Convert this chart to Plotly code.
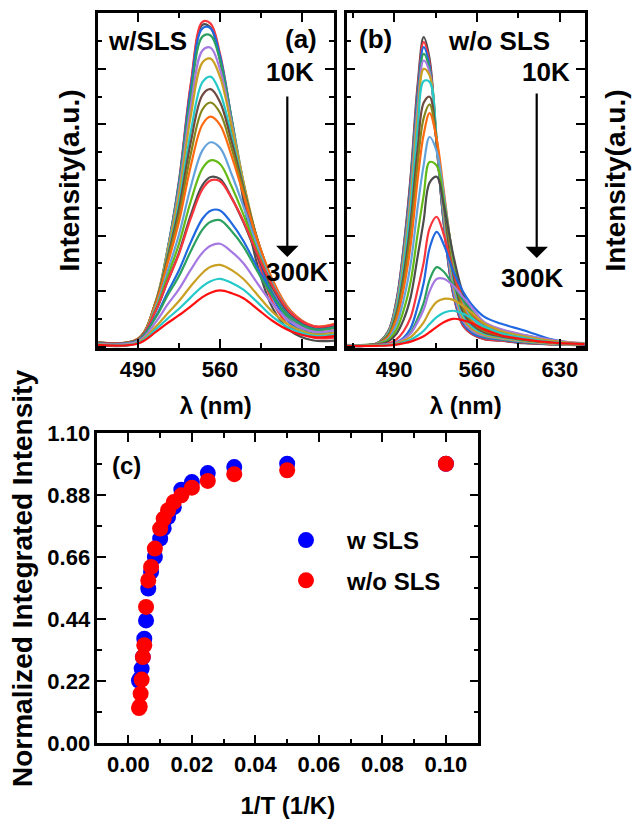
import plotly.graph_objects as go

FONT = "Liberation Sans, Arial, Helvetica, sans-serif"

# Measurement temperatures (K), 10 K first
temps = [10, 20, 30, 40, 50, 60, 70, 80, 90, 100,
         120, 140, 160, 180, 200, 220, 240, 260, 280, 300]

spectrum_colors = ["#4d4d4d", "#f8353c", "#1f68e0", "#2ca05f", "#a678e2",
                   "#c9a022", "#25c9c9", "#6e4a40", "#85851c", "#ff6a10",
                   "#63a2da", "#64ba16", "#4d4d4d", "#f8353c", "#1f68e0",
                   "#2ca05f", "#a678e2", "#c9a022", "#25c9c9", "#ff1010"]

# (a) PL spectra, sample with SLS
wl_a = [455, 490, 505, 515, 525, 535, 545, 552, 560, 570, 580, 592, 605, 620, 640, 658]
spectra_a = [
    [0.07, 0.17, 1.39, 3.28, 5.86, 9.37, 11.59, 11.48, 10.31, 7.85, 5.27, 2.93, 1.39, 0.58, 0.23, 0.23],
    [0.09, 0.20, 1.49, 3.41, 5.98, 9.46, 11.69, 11.63, 10.54, 8.14, 5.61, 3.23, 1.61, 0.73, 0.33, 0.34],
    [0.10, 0.23, 1.55, 3.45, 5.93, 9.28, 11.46, 11.46, 10.46, 8.19, 5.77, 3.44, 1.79, 0.85, 0.41, 0.44],
    [0.12, 0.25, 1.59, 3.46, 5.85, 9.02, 11.16, 11.20, 10.31, 8.19, 5.91, 3.62, 1.95, 0.96, 0.49, 0.53],
    [0.13, 0.26, 1.60, 3.40, 5.66, 8.64, 10.66, 10.76, 9.98, 8.04, 5.91, 3.73, 2.11, 1.05, 0.56, 0.60],
    [0.14, 0.28, 1.63, 3.38, 5.49, 8.29, 10.23, 10.37, 9.71, 7.92, 5.94, 3.84, 2.23, 1.15, 0.62, 0.67],
    [0.15, 0.28, 1.59, 3.24, 5.18, 7.73, 9.52, 9.72, 9.15, 7.57, 5.78, 3.82, 2.26, 1.19, 0.65, 0.72],
    [0.15, 0.29, 1.59, 3.17, 4.98, 7.35, 9.06, 9.27, 8.81, 7.37, 5.73, 3.86, 2.33, 1.25, 0.70, 0.77],
    [0.16, 0.30, 1.57, 3.07, 4.74, 6.93, 8.54, 8.79, 8.42, 7.13, 5.64, 3.86, 2.38, 1.29, 0.73, 0.81],
    [0.16, 0.30, 1.54, 2.95, 4.50, 6.50, 8.00, 8.28, 7.99, 6.85, 5.49, 3.83, 2.40, 1.32, 0.75, 0.84],
    [0.16, 0.28, 1.43, 2.69, 4.04, 5.75, 7.07, 7.36, 7.16, 6.20, 5.05, 3.58, 2.27, 1.26, 0.73, 0.80],
    [0.15, 0.28, 1.35, 2.50, 3.71, 5.23, 6.42, 6.71, 6.58, 5.76, 4.76, 3.42, 2.20, 1.23, 0.72, 0.79],
    [0.15, 0.27, 1.28, 2.33, 3.40, 4.74, 5.82, 6.11, 6.04, 5.36, 4.48, 3.26, 2.12, 1.19, 0.70, 0.78],
    [0.15, 0.27, 1.29, 2.33, 3.35, 4.62, 5.67, 5.99, 5.96, 5.34, 4.52, 3.33, 2.18, 1.24, 0.74, 0.81],
    [0.13, 0.24, 1.09, 1.94, 2.76, 3.76, 4.61, 4.90, 4.91, 4.44, 3.81, 2.84, 1.88, 1.08, 0.64, 0.71],
    [0.13, 0.23, 1.05, 1.83, 2.55, 3.44, 4.22, 4.50, 4.56, 4.16, 3.61, 2.71, 1.82, 1.06, 0.63, 0.70],
    [0.11, 0.20, 0.88, 1.51, 2.08, 2.77, 3.39, 3.64, 3.71, 3.42, 3.01, 2.28, 1.54, 0.91, 0.54, 0.60],
    [0.09, 0.16, 0.72, 1.19, 1.65, 2.18, 2.66, 2.88, 2.95, 2.76, 2.44, 1.87, 1.25, 0.76, 0.45, 0.51],
    [0.08, 0.14, 0.62, 1.01, 1.37, 1.78, 2.18, 2.36, 2.45, 2.30, 2.06, 1.60, 1.08, 0.66, 0.40, 0.44],
    [0.07, 0.12, 0.53, 0.85, 1.14, 1.46, 1.79, 1.95, 2.03, 1.93, 1.75, 1.36, 0.93, 0.57, 0.35, 0.39],
]

# (b) PL spectra, sample without SLS
wl_b = [449, 475, 485, 492, 498, 504, 510, 515, 520, 526, 532, 540, 548, 556, 566, 580, 600, 625, 652]
spectra_b = [
    [0.06, 0.11, 0.56, 1.67, 3.56, 6.13, 9.47, 11.14, 10.36, 7.35, 4.46, 1.89, 0.78, 0.45, 0.28, 0.22, 0.13, 0.09, 0.06],
    [0.05, 0.11, 0.55, 1.64, 3.50, 6.02, 9.31, 10.96, 10.21, 7.27, 4.41, 1.89, 0.79, 0.46, 0.29, 0.23, 0.14, 0.09, 0.05],
    [0.05, 0.11, 0.53, 1.61, 3.43, 5.90, 9.14, 10.78, 10.10, 7.26, 4.46, 1.96, 0.85, 0.50, 0.33, 0.26, 0.16, 0.10, 0.05],
    [0.05, 0.11, 0.53, 1.56, 3.33, 5.73, 8.91, 10.54, 9.97, 7.27, 4.54, 2.07, 0.92, 0.56, 0.37, 0.28, 0.18, 0.10, 0.06],
    [0.06, 0.11, 0.51, 1.51, 3.21, 5.54, 8.66, 10.30, 9.88, 7.35, 4.70, 2.10, 0.95, 0.58, 0.40, 0.30, 0.20, 0.11, 0.06],
    [0.06, 0.11, 0.49, 1.44, 3.07, 5.31, 8.34, 10.00, 9.77, 7.45, 4.89, 2.28, 1.05, 0.64, 0.44, 0.32, 0.21, 0.12, 0.06],
    [0.06, 0.11, 0.46, 1.35, 2.88, 4.98, 7.90, 9.56, 9.53, 7.51, 5.08, 2.45, 1.15, 0.72, 0.48, 0.35, 0.23, 0.13, 0.07],
    [0.06, 0.11, 0.42, 1.21, 2.57, 4.48, 7.17, 8.78, 9.00, 7.34, 5.14, 2.60, 1.27, 0.80, 0.53, 0.38, 0.25, 0.14, 0.07],
    [0.06, 0.11, 0.39, 1.10, 2.33, 4.08, 6.62, 8.23, 8.72, 7.41, 5.38, 2.85, 1.42, 0.88, 0.58, 0.41, 0.27, 0.15, 0.08],
    [0.07, 0.11, 0.35, 0.98, 2.07, 3.65, 6.04, 7.64, 8.41, 7.47, 5.61, 3.10, 1.58, 0.97, 0.63, 0.44, 0.29, 0.15, 0.08],
    [0.06, 0.11, 0.29, 0.80, 1.68, 2.98, 5.05, 6.54, 7.55, 7.03, 5.47, 3.15, 1.68, 1.03, 0.67, 0.47, 0.31, 0.16, 0.08],
    [0.06, 0.10, 0.24, 0.62, 1.30, 2.34, 4.09, 5.45, 6.65, 6.52, 5.26, 3.20, 1.78, 1.10, 0.71, 0.50, 0.33, 0.17, 0.08],
    [0.06, 0.09, 0.19, 0.47, 0.97, 1.79, 3.27, 4.54, 5.91, 6.12, 5.10, 3.30, 1.95, 1.22, 0.78, 0.55, 0.36, 0.18, 0.09],
    [0.05, 0.07, 0.12, 0.27, 0.56, 1.06, 2.07, 3.03, 4.26, 4.68, 4.03, 2.70, 1.75, 1.20, 0.80, 0.58, 0.40, 0.20, 0.08],
    [0.04, 0.06, 0.08, 0.17, 0.33, 0.67, 1.46, 2.30, 3.55, 4.14, 3.68, 2.72, 2.01, 1.50, 1.09, 0.84, 0.59, 0.25, 0.08],
    [0.04, 0.06, 0.08, 0.15, 0.28, 0.51, 1.03, 1.58, 2.41, 2.87, 2.70, 2.21, 1.70, 1.28, 0.85, 0.62, 0.42, 0.22, 0.11],
    [0.05, 0.07, 0.09, 0.16, 0.28, 0.48, 0.90, 1.34, 2.00, 2.44, 2.45, 2.20, 1.80, 1.40, 0.90, 0.64, 0.43, 0.24, 0.13],
    [0.04, 0.06, 0.07, 0.13, 0.22, 0.35, 0.61, 0.88, 1.28, 1.62, 1.73, 1.69, 1.48, 1.22, 0.85, 0.58, 0.38, 0.21, 0.12],
    [0.04, 0.05, 0.06, 0.10, 0.17, 0.26, 0.41, 0.58, 0.82, 1.07, 1.23, 1.30, 1.20, 1.02, 0.74, 0.50, 0.32, 0.17, 0.11],
    [0.03, 0.04, 0.05, 0.08, 0.13, 0.19, 0.28, 0.38, 0.53, 0.72, 0.89, 1.01, 0.96, 0.85, 0.63, 0.42, 0.27, 0.15, 0.10],
]

# (c) normalized integrated PL intensity vs 1/T
norm_w_sls = [0.992, 0.992, 0.980, 0.959, 0.927, 0.900, 0.838, 0.803, 0.763, 0.726,
              0.661, 0.608, 0.549, 0.436, 0.371, 0.306, 0.265, 0.230, 0.228, 0.222]
norm_wo_sls = [0.992, 0.969, 0.955, 0.931, 0.907, 0.880, 0.856, 0.827, 0.797, 0.762,
               0.691, 0.626, 0.578, 0.484, 0.348, 0.306, 0.226, 0.176, 0.131, 0.125]
inv_T = [1.0 / t for t in temps]

W, H = 634, 820


def px_x(p):
    return p / W


def px_y(p):
    return 1 - p / H


fig = go.Figure()

for T, row, col in zip(temps, spectra_a, spectrum_colors):
    fig.add_trace(go.Scatter(x=wl_a, y=row, mode="lines", name=f"{T} K",
                             line=dict(color=col, width=2.2, shape="spline"),
                             xaxis="x", yaxis="y", showlegend=False, hoverinfo="skip"))
for T, row, col in zip(temps, spectra_b, spectrum_colors):
    fig.add_trace(go.Scatter(x=wl_b, y=row, mode="lines", name=f"{T} K",
                             line=dict(color=col, width=2.2, shape="spline"),
                             xaxis="x2", yaxis="y2", showlegend=False, hoverinfo="skip"))

fig.add_trace(go.Scatter(x=inv_T, y=norm_w_sls, mode="markers", name="w SLS",
                         marker=dict(color="#0000ff", size=16),
                         xaxis="x3", yaxis="y3", legendgroup="g1"))
fig.add_trace(go.Scatter(x=inv_T, y=norm_wo_sls, mode="markers", name="w/o SLS",
                         marker=dict(color="#ff0000", size=16),
                         xaxis="x3", yaxis="y3", legendgroup="g2"))

tickfont = dict(family=FONT, size=22, color="black", weight="bold")
titlefont_y = dict(family=FONT, size=28, color="black", weight="bold")
titlefont_x = dict(family=FONT, size=24, color="black", weight="bold")


def frame(**kw):
    base = dict(showline=True, linecolor="black", linewidth=2.5, mirror="ticks",
                ticks="inside", ticklen=9, tickwidth=2, tickcolor="black",
                showgrid=False, zeroline=False, tickfont=tickfont, automargin=False)
    base.update(kw)
    return base


def minor(d, t0=0):
    return dict(ticks="inside", ticklen=5, tickwidth=2, tickcolor="black",
                dtick=d, tick0=t0, showgrid=False)


dom_ab_y = [px_y(348), px_y(13)]

fig.update_layout(
    width=W, height=H,
    margin=dict(l=0, r=0, t=0, b=0),
    paper_bgcolor="white", plot_bgcolor="white",
    font=dict(family=FONT, color="black"),
    xaxis=frame(domain=[px_x(97.7), px_x(334)], range=[455.6, 657.3], anchor="y",
                tickmode="linear", tick0=490, dtick=70, minor=minor(35, 490),
                title=dict(text="λ (nm)", font=titlefont_x, standoff=17)),
    yaxis=frame(domain=dom_ab_y, range=[-0.04, 12.01], anchor="x",
                tickmode="linear", tick0=0, dtick=2, minor=minor(1),
                showticklabels=False,
                title=dict(text="Intensity(a.u.)", font=titlefont_y, standoff=8)),
    xaxis2=frame(domain=[px_x(346.7), px_x(584.7)], range=[450, 651], anchor="y2",
                 tickmode="linear", tick0=490, dtick=70, minor=minor(35, 490),
                 title=dict(text="λ (nm)", font=titlefont_x, standoff=17)),
    yaxis2=frame(domain=dom_ab_y, range=[-0.04, 12.01], anchor="x2", side="right",
                 tickmode="linear", tick0=0, dtick=2, minor=minor(1),
                 showticklabels=False,
                 title=dict(text="Intensity(a.u.)", font=titlefont_y, standoff=19)),
    xaxis3=frame(domain=[px_x(97.3), px_x(478.3)], range=[-0.0098, 0.1102], anchor="y3",
                 tickmode="linear", tick0=0, dtick=0.02, tickformat=".2f",
                 minor=minor(0.01),
                 title=dict(text="1/T (1/K)", font=titlefont_x, standoff=21)),
    yaxis3=frame(domain=[px_y(743.3), px_y(433.3)], range=[0, 1.10], anchor="x3",
                 tickmode="linear", tick0=0, dtick=0.22, tickformat=".2f",
                 minor=minor(0.11)),
    showlegend=True,
    legend=dict(x=px_x(265), y=px_y(518), xanchor="left", yanchor="top",
                bgcolor="rgba(0,0,0,0)", borderwidth=0, itemwidth=72,
                tracegroupgap=6, traceorder="grouped",
                font=dict(family=FONT, size=24, color="black", weight="bold")),
)

# y-axis title of panel (c), placed slightly above the axis centre
fig.add_annotation(text="Normalized Integrated Intensity", x=px_x(22), y=px_y(579),
                   xref="paper", yref="paper", xanchor="center", yanchor="middle",
                   textangle=-90, showarrow=False, font=titlefont_y)

ann_font = dict(family=FONT, size=26, color="black", weight="bold")
labels = [
    ("w/SLS", 147.5, 41),
    ("(a)", 300.7, 38.5),
    ("10K", 290, 72.5),
    ("300K", 296.7, 272.5),
    ("(b)", 375.5, 38.5),
    ("w/o SLS", 499, 41),
    ("10K", 545.8, 72.5),
    ("300K", 531.7, 278),
]
for text, x, y in labels:
    fig.add_annotation(text=text, x=px_x(x), y=px_y(y), xref="paper", yref="paper",
                       xanchor="center", yanchor="middle", showarrow=False, font=ann_font)
fig.add_annotation(text="(c)", x=px_x(126), y=px_y(466), xref="paper", yref="paper",
                   xanchor="center", yanchor="middle", showarrow=False,
                   font=dict(family=FONT, size=24, color="black", weight="bold"))

# temperature arrows (10 K -> 300 K)
for x, tip, tail in [(287.3, 257, 95), (536.7, 258, 92)]:
    fig.add_annotation(text="", x=px_x(x), y=px_y(tip), xref="paper", yref="paper",
                       ax=0, ay=-(tip - tail), showarrow=True, arrowhead=1,
                       arrowsize=1.7, arrowwidth=2.2, arrowcolor="black", standoff=0)

fig.write_html("out.html", config={"displayModeBar": False})
